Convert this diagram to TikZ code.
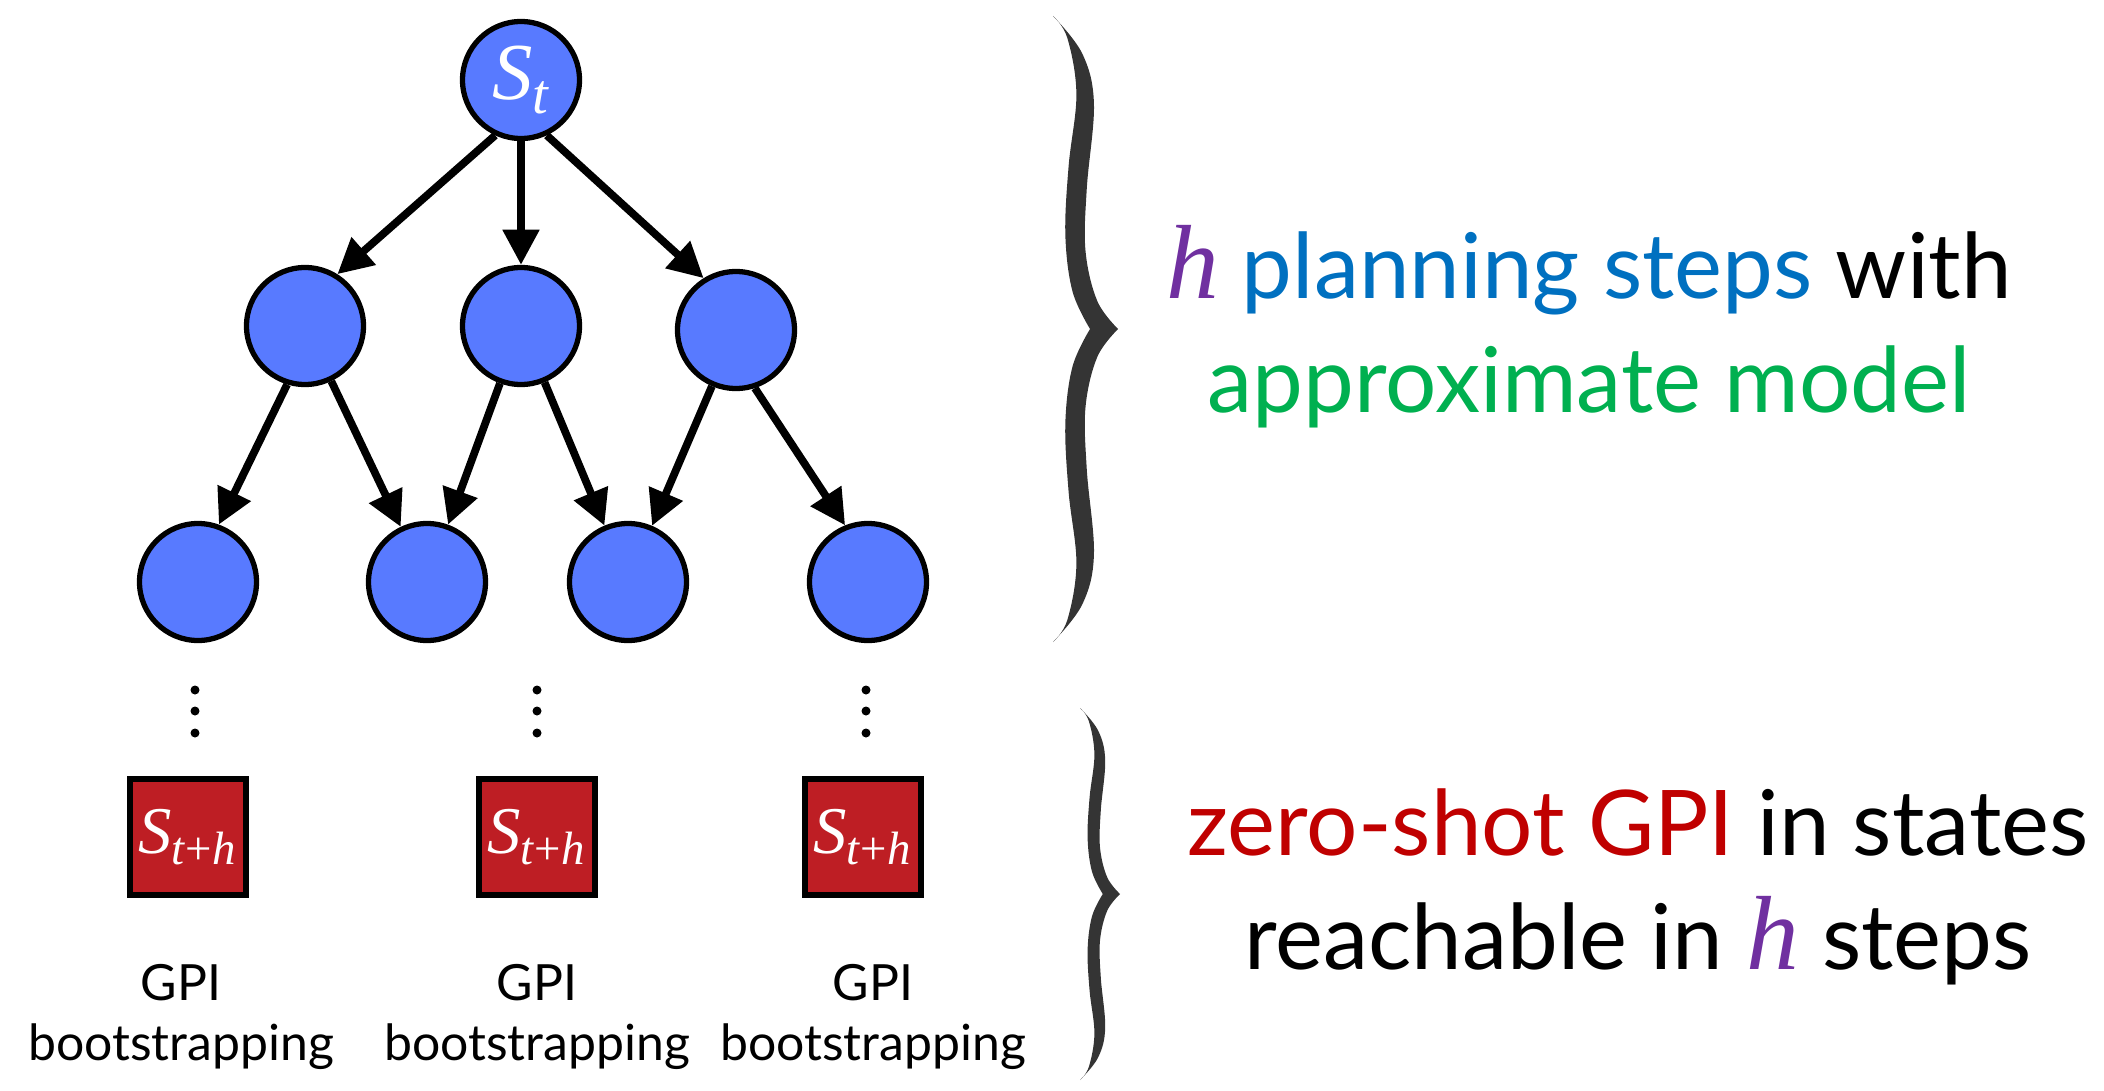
\documentclass[tikz,border=0pt]{standalone}
\usepackage{fontspec}
\setmainfont{Lato}
\newfontfamily\tms{Liberation Serif}
\usepackage{tikz}
\usetikzlibrary{positioning}
\usetikzlibrary{arrows.meta}
\definecolor{stateblue}{RGB}{88,122,255}
\definecolor{leafred}{RGB}{190,30,36}
\definecolor{planblue}{RGB}{0,112,192}
\definecolor{modelgreen}{RGB}{0,176,80}
\definecolor{gpired}{RGB}{192,0,0}
\definecolor{hpurple}{RGB}{112,48,160}
\definecolor{bracegray}{RGB}{52,52,52}
\newcommand{\hstep}{{\fontsize{30}{32}\selectfont\tms\itshape\color{hpurple}h}}
\newcommand{\leafstate}{S\textsubscript{t\textup{+}h}}
\tikzset{state node/.style={circle,fill=stateblue,draw,line width=1.5pt,minimum size=1.17cm,inner sep=0pt,text=white,font=\fontsize{23}{26}\selectfont\tms\itshape},
  leaf node/.style={rectangle,fill=leafred,draw,line width=1.6pt,minimum size=1.16cm,inner sep=0pt,text=white,font=\fontsize{19}{22}\selectfont\tms\itshape},
  gpi label/.style={align=center,inner sep=0pt,font=\fontsize{14.2}{17.1}\selectfont},
  side text/.style={align=center,inner sep=0pt,font=\fontsize{25.8}{32.4}\selectfont},
  bigbrace/.pic={
    \fill[bracegray] plot[smooth,tension=0.6] coordinates {(0,1) (0.45,0.88) (0.63,0.72) (0.52,0.45) (0.5,0.25) (0.68,0.09) (1,0)}
      -- plot[smooth,tension=0.6] coordinates {(1,0) (0.68,-0.09) (0.5,-0.25) (0.52,-0.45) (0.63,-0.72) (0.45,-0.88) (0,-1)}
      -- plot[smooth,tension=0.6] coordinates {(0,-1) (0.22,-0.93) (0.36,-0.75) (0.24,-0.52) (0.19,-0.3) (0.3,-0.12) (0.57,0)}
      -- plot[smooth,tension=0.6] coordinates {(0.57,0) (0.3,0.12) (0.19,0.3) (0.24,0.52) (0.36,0.75) (0.22,0.93) (0,1)} -- cycle;
  }}

\begin{document}
\begin{tikzpicture}[on grid,>={Triangle[length=10pt,width=10pt]}]
    \useasboundingbox (0,0) rectangle (21.04,-10.91);

    % planning tree
    \node[state node] (st) at (5.21,-0.80) {S\textsubscript{t}};
    \node[state node] (n1) [below left = 2.46cm and 2.16cm of st] {};
    \node[state node] (n2) [below = 2.46cm of st] {};
    \node[state node] (n3) [below right = 2.50cm and 2.15cm of st] {};
    \node[state node] (n4) [below left = 2.56cm and 1.07cm of n1] {};
    \node[state node] (n5) [below right = 2.56cm and 1.22cm of n1] {};
    \node[state node] (n6) [below right = 2.56cm and 1.07cm of n2] {};
    \node[state node] (n7) [below right = 2.52cm and 1.32cm of n3] {};

    \path[->,line width=2.2pt]
    (st.245) edge (n1.58)
    (st) edge (n2)
    (st.295) edge (n3.122)
    (n1.253) edge (n4.70)
    (n1) edge (n5)
    (n2) edge (n5)
    (n2) edge (n6)
    (n3) edge (n6)
    (n3.288) edge (n7.112);

    % h steps later
    \foreach \x in {1.95,5.37,8.66}
      \foreach \y in {-6.90,-7.11,-7.33}
        \fill (\x,\y) circle (0.045);

    \node[leaf node] (g1) at (1.88,-8.37) {\leafstate};
    \node[leaf node] (g2) at (5.37,-8.37) {\leafstate};
    \node[leaf node] (g3) at (8.63,-8.37) {\leafstate};

    \node[gpi label] (b1) at (1.81,-10.17) {GPI\\bootstrapping};
    \node[gpi label] (b2) at (5.37,-10.17) {GPI\\bootstrapping};
    \node[gpi label] (b3) at (8.73,-10.17) {GPI\\bootstrapping};

    % braces and notes
    \pic[xscale=0.65,yscale=3.13] at (10.53,-3.29) {bigbrace};
    \pic[xscale=0.40,yscale=1.86] at (10.80,-8.94) {bigbrace};

    \node[side text] (plan) at (15.89,-3.27) {\hstep\ \textcolor{planblue}{planning steps} with\\\textcolor{modelgreen}{approximate model}};
    \node[side text] (zero) at (16.38,-8.87) {\textcolor{gpired}{zero-shot GPI} in states\\reachable in \hstep\ steps};
\end{tikzpicture}
\end{document}
